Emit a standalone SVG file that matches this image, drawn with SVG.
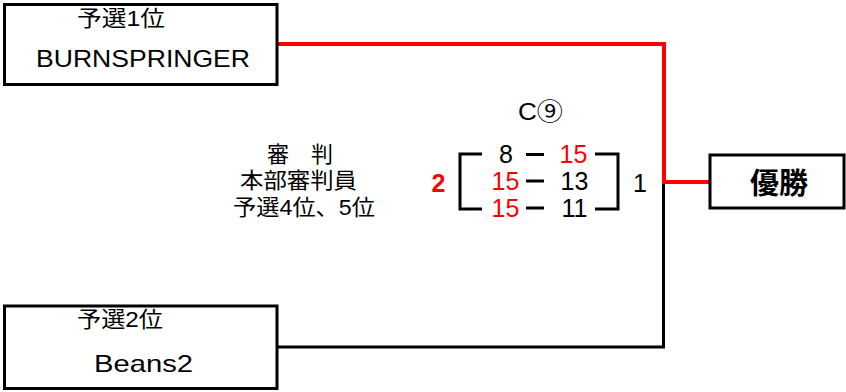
<svg xmlns="http://www.w3.org/2000/svg" width="846" height="392" viewBox="0 0 846 392">
<style>
text{font-family:"Liberation Sans","Noto Sans CJK JP",sans-serif;fill:#000;text-anchor:middle}
.box{fill:#fff;stroke:#000;stroke-width:3}
.red{fill:#f00}
.blk{fill:none;stroke:#000;stroke-width:3}
.rl{fill:none;stroke:#f00;stroke-width:4}
.jp{font-size:22px}
.num{font-size:25px}
</style>
<rect width="846" height="392" fill="#fff"/>
<g id="connectors">
<polyline class="blk" points="277,347 663.5,347 663.5,183"/>
<polyline class="rl" points="277,44 664,44 664,182 710,182"/>
</g>
<g id="node-1">
<rect class="box" x="4.5" y="4.5" width="272.5" height="80"/>
<text class="jp" x="121" y="26" textLength="88" lengthAdjust="spacingAndGlyphs">予選1位</text>
<text x="143" y="67" font-size="24" textLength="214" lengthAdjust="spacingAndGlyphs">BURNSPRINGER</text>
</g>
<g id="node-2">
<rect class="box" x="4.5" y="306" width="272.5" height="82.5"/>
<text class="jp" x="120" y="327" textLength="86" lengthAdjust="spacingAndGlyphs">予選2位</text>
<text x="143.5" y="372" font-size="24" textLength="99" lengthAdjust="spacingAndGlyphs">Beans2</text>
</g>
<g id="node-winner">
<rect class="box" x="710" y="155" width="134" height="53"/>
<text x="779" y="194" font-size="29" font-weight="bold">優勝</text>
</g>
<g id="referee">
<text class="jp" x="300" y="162">審　判</text>
<text class="jp" x="298.5" y="188" textLength="117" lengthAdjust="spacingAndGlyphs">本部審判員</text>
<text class="jp" x="304" y="215" textLength="142" lengthAdjust="spacingAndGlyphs">予選4位、5位</text>
</g>
<g id="match">
<text x="540.5" y="120" font-size="24" textLength="45" lengthAdjust="spacingAndGlyphs">C⑨</text>
<path class="blk" d="M482,154 H460 V209 H482 M595,154 H618 V209 H595"/>
<path class="blk" d="M526,154.5 H544 M526,181 H544 M526,208 H544"/>
<text class="num" x="506" y="163">8</text>
<text class="num red" x="573.5" y="163">15</text>
<text class="num red" x="505.5" y="190">15</text>
<text class="num" x="574.5" y="190">13</text>
<text class="num red" x="505.5" y="217">15</text>
<text class="num" x="574.5" y="217">11</text>
<text class="num red" x="438.5" y="192" font-weight="bold" font-size="26">2</text>
<text class="num" x="640" y="192" font-size="26">1</text>
</g>
</svg>
